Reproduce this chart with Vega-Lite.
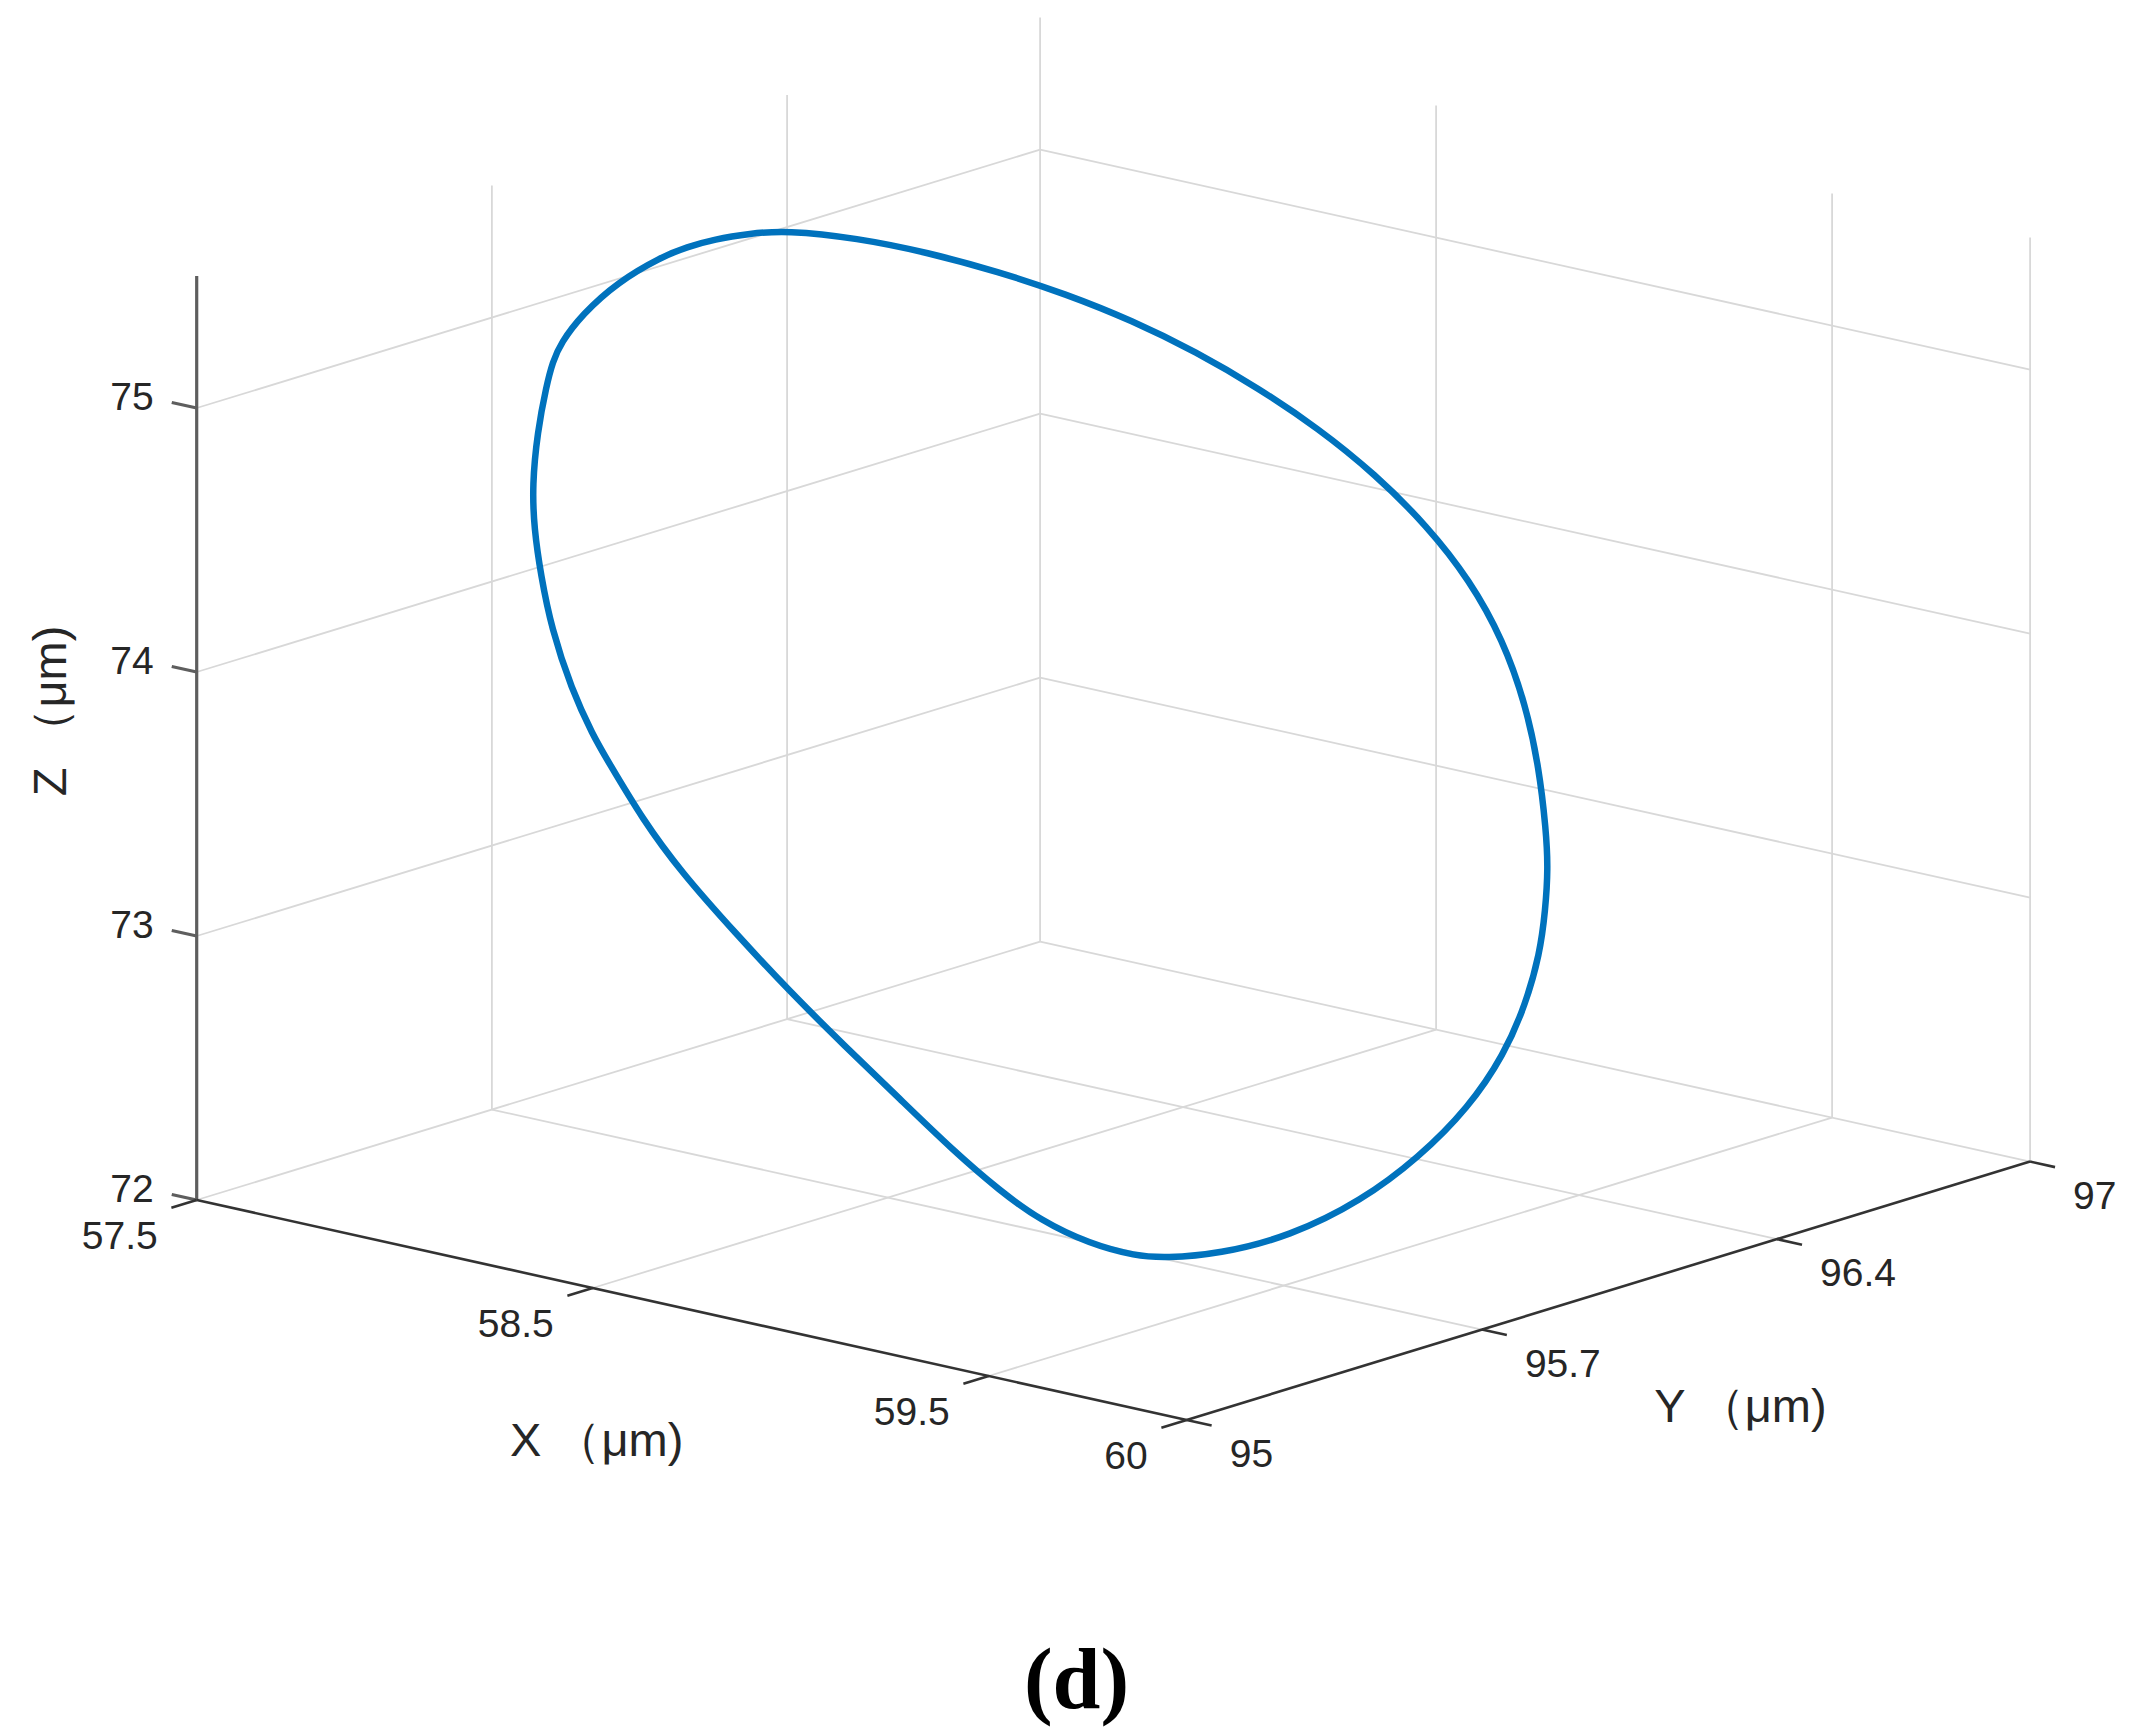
{
  "$schema": "https://vega.github.io/schema/vega-lite/v6.json",
  "width": 2135,
  "height": 1640,
  "padding": {"left": 0, "top": 0, "right": 0, "bottom": 14},
  "background": "white",
  "config": {"view": {"stroke": null}},
  "title": {"text": "(d)", "orient": "bottom", "anchor": "middle", "font": "Liberation Serif", "fontSize": 86, "fontWeight": "bold", "color": "#000000", "offset": 68, "baseline": "alphabetic", "dx": 9},
  "datasets": {
    "curve": [
      {"i":1,"X":57.801,"Y":96.114,"Z":75.228},{"i":2,"X":57.852,"Y":96.235,"Z":75.157},{"i":3,"X":57.913,"Y":96.346,"Z":75.068},
      {"i":4,"X":57.979,"Y":96.450,"Z":74.967},{"i":5,"X":58.048,"Y":96.546,"Z":74.858},{"i":6,"X":58.122,"Y":96.634,"Z":74.739},
      {"i":7,"X":58.202,"Y":96.711,"Z":74.609},{"i":8,"X":58.286,"Y":96.779,"Z":74.467},{"i":9,"X":58.375,"Y":96.838,"Z":74.315},
      {"i":10,"X":58.469,"Y":96.884,"Z":74.151},{"i":11,"X":58.569,"Y":96.914,"Z":73.973},{"i":12,"X":58.666,"Y":96.924,"Z":73.795},
      {"i":13,"X":58.766,"Y":96.909,"Z":73.609},{"i":14,"X":58.866,"Y":96.869,"Z":73.416},{"i":15,"X":58.958,"Y":96.814,"Z":73.235},
      {"i":16,"X":59.046,"Y":96.748,"Z":73.061},{"i":17,"X":59.098,"Y":96.704,"Z":72.956},{"i":18,"X":59.153,"Y":96.646,"Z":72.844},
      {"i":19,"X":59.209,"Y":96.580,"Z":72.727},{"i":20,"X":59.268,"Y":96.491,"Z":72.601},{"i":21,"X":59.323,"Y":96.389,"Z":72.480},
      {"i":22,"X":59.374,"Y":96.256,"Z":72.359},{"i":23,"X":59.412,"Y":96.102,"Z":72.258},{"i":24,"X":59.437,"Y":95.943,"Z":72.181},
      {"i":25,"X":59.443,"Y":95.768,"Z":72.134},{"i":26,"X":59.426,"Y":95.615,"Z":72.136},{"i":27,"X":59.400,"Y":95.512,"Z":72.163},
      {"i":28,"X":59.381,"Y":95.461,"Z":72.189},{"i":29,"X":59.338,"Y":95.392,"Z":72.254},{"i":30,"X":59.277,"Y":95.331,"Z":72.354},
      {"i":31,"X":59.215,"Y":95.295,"Z":72.461},{"i":32,"X":59.132,"Y":95.260,"Z":72.606},{"i":33,"X":59.033,"Y":95.228,"Z":72.782},
      {"i":34,"X":58.930,"Y":95.194,"Z":72.965},{"i":35,"X":58.826,"Y":95.162,"Z":73.151},{"i":36,"X":58.715,"Y":95.136,"Z":73.350},
      {"i":37,"X":58.601,"Y":95.114,"Z":73.555},{"i":38,"X":58.510,"Y":95.110,"Z":73.722},{"i":39,"X":58.409,"Y":95.120,"Z":73.911},
      {"i":40,"X":58.368,"Y":95.125,"Z":73.987},{"i":41,"X":58.293,"Y":95.144,"Z":74.129},{"i":42,"X":58.200,"Y":95.184,"Z":74.308},
      {"i":43,"X":58.122,"Y":95.232,"Z":74.461},{"i":44,"X":58.056,"Y":95.278,"Z":74.592},{"i":45,"X":57.997,"Y":95.329,"Z":74.711},
      {"i":46,"X":57.928,"Y":95.406,"Z":74.853},{"i":47,"X":57.871,"Y":95.481,"Z":74.973},{"i":48,"X":57.843,"Y":95.522,"Z":75.033},
      {"i":49,"X":57.822,"Y":95.561,"Z":75.079},{"i":50,"X":57.796,"Y":95.636,"Z":75.142},{"i":51,"X":57.773,"Y":95.742,"Z":75.205},
      {"i":52,"X":57.765,"Y":95.852,"Z":75.243},{"i":53,"X":57.766,"Y":95.913,"Z":75.252},{"i":54,"X":57.772,"Y":95.972,"Z":75.254},
      {"i":55,"X":57.784,"Y":96.045,"Z":75.244}
    ],
    "segments": [
      {"type":"grid","x1":57.5,"y1":95.7,"z1":72,"x2":57.5,"y2":95.7,"z2":75.5},
      {"type":"grid","x1":57.5,"y1":96.4,"z1":72,"x2":57.5,"y2":96.4,"z2":75.5},
      {"type":"grid","x1":57.5,"y1":97,"z1":72,"x2":57.5,"y2":97,"z2":75.5},
      {"type":"grid","x1":57.5,"y1":95,"z1":72,"x2":57.5,"y2":97,"z2":72},
      {"type":"grid","x1":57.5,"y1":95,"z1":73,"x2":57.5,"y2":97,"z2":73},
      {"type":"grid","x1":57.5,"y1":95,"z1":74,"x2":57.5,"y2":97,"z2":74},
      {"type":"grid","x1":57.5,"y1":95,"z1":75,"x2":57.5,"y2":97,"z2":75},
      {"type":"grid","x1":58.5,"y1":97,"z1":72,"x2":58.5,"y2":97,"z2":75.5},
      {"type":"grid","x1":59.5,"y1":97,"z1":72,"x2":59.5,"y2":97,"z2":75.5},
      {"type":"grid","x1":60,"y1":97,"z1":72,"x2":60,"y2":97,"z2":75.5},
      {"type":"grid","x1":57.5,"y1":97,"z1":72,"x2":60,"y2":97,"z2":72},
      {"type":"grid","x1":57.5,"y1":97,"z1":73,"x2":60,"y2":97,"z2":73},
      {"type":"grid","x1":57.5,"y1":97,"z1":74,"x2":60,"y2":97,"z2":74},
      {"type":"grid","x1":57.5,"y1":97,"z1":75,"x2":60,"y2":97,"z2":75},
      {"type":"grid","x1":58.5,"y1":95,"z1":72,"x2":58.5,"y2":97,"z2":72},
      {"type":"grid","x1":59.5,"y1":95,"z1":72,"x2":59.5,"y2":97,"z2":72},
      {"type":"grid","x1":57.5,"y1":95.7,"z1":72,"x2":60,"y2":95.7,"z2":72},
      {"type":"grid","x1":57.5,"y1":96.4,"z1":72,"x2":60,"y2":96.4,"z2":72},
      {"type":"zaxis","x1":57.5,"y1":95,"z1":72,"x2":57.5,"y2":95,"z2":75.5},
      {"type":"axis","x1":57.5,"y1":95,"z1":72,"x2":60,"y2":95,"z2":72},
      {"type":"axis","x1":60,"y1":95,"z1":72,"x2":60,"y2":97,"z2":72},
      {"type":"axis","x1":57.5,"y1":95,"z1":72,"x2":57.5,"y2":94.94,"z2":72},
      {"type":"axis","x1":58.5,"y1":95,"z1":72,"x2":58.5,"y2":94.94,"z2":72},
      {"type":"axis","x1":59.5,"y1":95,"z1":72,"x2":59.5,"y2":94.94,"z2":72},
      {"type":"axis","x1":60,"y1":95,"z1":72,"x2":60,"y2":94.94,"z2":72},
      {"type":"axis","x1":60,"y1":95,"z1":72,"x2":60.063,"y2":95,"z2":72},
      {"type":"axis","x1":60,"y1":95.7,"z1":72,"x2":60.063,"y2":95.7,"z2":72},
      {"type":"axis","x1":60,"y1":96.4,"z1":72,"x2":60.063,"y2":96.4,"z2":72},
      {"type":"axis","x1":60,"y1":97,"z1":72,"x2":60.063,"y2":97,"z2":72},
      {"type":"zaxis","x1":57.5,"y1":95,"z1":72,"x2":57.437,"y2":95,"z2":72},
      {"type":"zaxis","x1":57.5,"y1":95,"z1":73,"x2":57.437,"y2":95,"z2":73},
      {"type":"zaxis","x1":57.5,"y1":95,"z1":74,"x2":57.437,"y2":95,"z2":74},
      {"type":"zaxis","x1":57.5,"y1":95,"z1":75,"x2":57.437,"y2":95,"z2":75}
    ],
    "labels": [
      {"axis":"x","label":"57.5","X":57.5,"Y":95,"Z":72},
      {"axis":"x","label":"58.5","X":58.5,"Y":95,"Z":72},
      {"axis":"x","label":"59.5","X":59.5,"Y":95,"Z":72},
      {"axis":"x","label":"60","X":60,"Y":95,"Z":72},
      {"axis":"y","label":"95","X":60,"Y":95,"Z":72},
      {"axis":"y","label":"95.7","X":60,"Y":95.7,"Z":72},
      {"axis":"y","label":"96.4","X":60,"Y":96.4,"Z":72},
      {"axis":"y","label":"97","X":60,"Y":97,"Z":72},
      {"axis":"z","label":"72","X":57.5,"Y":95,"Z":72},
      {"axis":"z","label":"73","X":57.5,"Y":95,"Z":73},
      {"axis":"z","label":"74","X":57.5,"Y":95,"Z":74},
      {"axis":"z","label":"75","X":57.5,"Y":95,"Z":75},
      {"axis":"xt","label":"X （μm)","X":58.75,"Y":95,"Z":72},
      {"axis":"yt","label":"Y （μm)","X":60,"Y":96,"Z":72},
      {"axis":"zt","label":"Z （μm)","X":57.5,"Y":95,"Z":73.75}
    ]
  },
  "layer": [
    {
      "data": {"name": "segments"},
      "transform": [
        {"filter": "datum.type == 'grid'"},
        {"calculate": "196.7 + 396*(datum.x1-57.5) + 421.7*(datum.y1-95)", "as": "px1"},
        {"calculate": "1200 + 88*(datum.x1-57.5) - 129.2*(datum.y1-95) - 264*(datum.z1-72)", "as": "py1"},
        {"calculate": "196.7 + 396*(datum.x2-57.5) + 421.7*(datum.y2-95)", "as": "px2"},
        {"calculate": "1200 + 88*(datum.x2-57.5) - 129.2*(datum.y2-95) - 264*(datum.z2-72)", "as": "py2"}
      ],
      "mark": {"type": "rule", "color": "#d8d8d8", "strokeWidth": 1.8},
      "encoding": {
        "x": {"field": "px1", "type": "quantitative", "scale": {"domain": [0, 2135], "nice": false, "zero": false}, "axis": null},
        "y": {"field": "py1", "type": "quantitative", "scale": {"domain": [0, 1640], "nice": false, "zero": false, "reverse": true}, "axis": null},
        "x2": {"field": "px2"},
        "y2": {"field": "py2"}
      }
    },
    {
      "data": {"name": "curve"},
      "transform": [
        {"calculate": "196.7 + 396*(datum.X-57.5) + 421.7*(datum.Y-95)", "as": "px"},
        {"calculate": "1200 + 88*(datum.X-57.5) - 129.2*(datum.Y-95) - 264*(datum.Z-72)", "as": "py"}
      ],
      "mark": {"type": "line", "color": "#0072BD", "strokeWidth": 6.5, "interpolate": "basis-closed", "strokeJoin": "round"},
      "encoding": {
        "x": {"field": "px", "type": "quantitative", "scale": {"domain": [0, 2135], "nice": false, "zero": false}, "axis": null},
        "y": {"field": "py", "type": "quantitative", "scale": {"domain": [0, 1640], "nice": false, "zero": false, "reverse": true}, "axis": null},
        "order": {"field": "i", "type": "quantitative"}
      }
    },
    {
      "data": {"name": "segments"},
      "transform": [
        {"filter": "datum.type == 'zaxis'"},
        {"calculate": "196.7 + 396*(datum.x1-57.5) + 421.7*(datum.y1-95)", "as": "px1"},
        {"calculate": "1200 + 88*(datum.x1-57.5) - 129.2*(datum.y1-95) - 264*(datum.z1-72)", "as": "py1"},
        {"calculate": "196.7 + 396*(datum.x2-57.5) + 421.7*(datum.y2-95)", "as": "px2"},
        {"calculate": "1200 + 88*(datum.x2-57.5) - 129.2*(datum.y2-95) - 264*(datum.z2-72)", "as": "py2"}
      ],
      "mark": {"type": "rule", "color": "#5e5e5e", "strokeWidth": 3.2},
      "encoding": {
        "x": {"field": "px1", "type": "quantitative", "scale": {"domain": [0, 2135], "nice": false, "zero": false}, "axis": null},
        "y": {"field": "py1", "type": "quantitative", "scale": {"domain": [0, 1640], "nice": false, "zero": false, "reverse": true}, "axis": null},
        "x2": {"field": "px2"},
        "y2": {"field": "py2"}
      }
    },
    {
      "data": {"name": "segments"},
      "transform": [
        {"filter": "datum.type == 'axis'"},
        {"calculate": "196.7 + 396*(datum.x1-57.5) + 421.7*(datum.y1-95)", "as": "px1"},
        {"calculate": "1200 + 88*(datum.x1-57.5) - 129.2*(datum.y1-95) - 264*(datum.z1-72)", "as": "py1"},
        {"calculate": "196.7 + 396*(datum.x2-57.5) + 421.7*(datum.y2-95)", "as": "px2"},
        {"calculate": "1200 + 88*(datum.x2-57.5) - 129.2*(datum.y2-95) - 264*(datum.z2-72)", "as": "py2"}
      ],
      "mark": {"type": "rule", "color": "#333333", "strokeWidth": 2.6},
      "encoding": {
        "x": {"field": "px1", "type": "quantitative", "scale": {"domain": [0, 2135], "nice": false, "zero": false}, "axis": null},
        "y": {"field": "py1", "type": "quantitative", "scale": {"domain": [0, 1640], "nice": false, "zero": false, "reverse": true}, "axis": null},
        "x2": {"field": "px2"},
        "y2": {"field": "py2"}
      }
    },
    {
      "data": {"name": "labels"},
      "transform": [
        {"filter": "datum.axis == 'x'"},
        {"calculate": "196.7 + 396*(datum.X-57.5) + 421.7*(datum.Y-95)", "as": "px"},
        {"calculate": "1200 + 88*(datum.X-57.5) - 129.2*(datum.Y-95) - 264*(datum.Z-72)", "as": "py"}
      ],
      "mark": {"type": "text", "font": "Liberation Sans", "fontSize": 39, "color": "#262626", "align": "right", "baseline": "middle", "dx": -39, "dy": 37},
      "encoding": {
        "x": {"field": "px", "type": "quantitative", "scale": {"domain": [0, 2135], "nice": false, "zero": false}, "axis": null},
        "y": {"field": "py", "type": "quantitative", "scale": {"domain": [0, 1640], "nice": false, "zero": false, "reverse": true}, "axis": null},
        "text": {"field": "label"}
      }
    },
    {
      "data": {"name": "labels"},
      "transform": [
        {"filter": "datum.axis == 'y'"},
        {"calculate": "196.7 + 396*(datum.X-57.5) + 421.7*(datum.Y-95)", "as": "px"},
        {"calculate": "1200 + 88*(datum.X-57.5) - 129.2*(datum.Y-95) - 264*(datum.Z-72)", "as": "py"}
      ],
      "mark": {"type": "text", "font": "Liberation Sans", "fontSize": 39, "color": "#262626", "align": "left", "baseline": "middle", "dx": 43, "dy": 35},
      "encoding": {
        "x": {"field": "px", "type": "quantitative", "scale": {"domain": [0, 2135], "nice": false, "zero": false}, "axis": null},
        "y": {"field": "py", "type": "quantitative", "scale": {"domain": [0, 1640], "nice": false, "zero": false, "reverse": true}, "axis": null},
        "text": {"field": "label"}
      }
    },
    {
      "data": {"name": "labels"},
      "transform": [
        {"filter": "datum.axis == 'z'"},
        {"calculate": "196.7 + 396*(datum.X-57.5) + 421.7*(datum.Y-95)", "as": "px"},
        {"calculate": "1200 + 88*(datum.X-57.5) - 129.2*(datum.Y-95) - 264*(datum.Z-72)", "as": "py"}
      ],
      "mark": {"type": "text", "font": "Liberation Sans", "fontSize": 39, "color": "#262626", "align": "right", "baseline": "middle", "dx": -43, "dy": -10},
      "encoding": {
        "x": {"field": "px", "type": "quantitative", "scale": {"domain": [0, 2135], "nice": false, "zero": false}, "axis": null},
        "y": {"field": "py", "type": "quantitative", "scale": {"domain": [0, 1640], "nice": false, "zero": false, "reverse": true}, "axis": null},
        "text": {"field": "label"}
      }
    },
    {
      "data": {"name": "labels"},
      "transform": [
        {"filter": "datum.axis == 'xt'"},
        {"calculate": "196.7 + 396*(datum.X-57.5) + 421.7*(datum.Y-95)", "as": "px"},
        {"calculate": "1200 + 88*(datum.X-57.5) - 129.2*(datum.Y-95) - 264*(datum.Z-72)", "as": "py"}
      ],
      "mark": {"type": "text", "font": "Liberation Sans", "fontSize": 47, "color": "#262626", "align": "center", "baseline": "middle", "dx": -95, "dy": 132},
      "encoding": {
        "x": {"field": "px", "type": "quantitative", "scale": {"domain": [0, 2135], "nice": false, "zero": false}, "axis": null},
        "y": {"field": "py", "type": "quantitative", "scale": {"domain": [0, 1640], "nice": false, "zero": false, "reverse": true}, "axis": null},
        "text": {"field": "label"}
      }
    },
    {
      "data": {"name": "labels"},
      "transform": [
        {"filter": "datum.axis == 'yt'"},
        {"calculate": "196.7 + 396*(datum.X-57.5) + 421.7*(datum.Y-95)", "as": "px"},
        {"calculate": "1200 + 88*(datum.X-57.5) - 129.2*(datum.Y-95) - 264*(datum.Z-72)", "as": "py"}
      ],
      "mark": {"type": "text", "font": "Liberation Sans", "fontSize": 47, "color": "#262626", "align": "center", "baseline": "middle", "dx": 132, "dy": 117},
      "encoding": {
        "x": {"field": "px", "type": "quantitative", "scale": {"domain": [0, 2135], "nice": false, "zero": false}, "axis": null},
        "y": {"field": "py", "type": "quantitative", "scale": {"domain": [0, 1640], "nice": false, "zero": false, "reverse": true}, "axis": null},
        "text": {"field": "label"}
      }
    },
    {
      "data": {"name": "labels"},
      "transform": [
        {"filter": "datum.axis == 'zt'"},
        {"calculate": "196.7 + 396*(datum.X-57.5) + 421.7*(datum.Y-95)", "as": "px"},
        {"calculate": "1200 + 88*(datum.X-57.5) - 129.2*(datum.Y-95) - 264*(datum.Z-72)", "as": "py"}
      ],
      "mark": {"type": "text", "font": "Liberation Sans", "fontSize": 47, "color": "#262626", "align": "center", "baseline": "middle", "angle": 270, "dx": 27, "dy": -145},
      "encoding": {
        "x": {"field": "px", "type": "quantitative", "scale": {"domain": [0, 2135], "nice": false, "zero": false}, "axis": null},
        "y": {"field": "py", "type": "quantitative", "scale": {"domain": [0, 1640], "nice": false, "zero": false, "reverse": true}, "axis": null},
        "text": {"field": "label"}
      }
    }
  ]
}
